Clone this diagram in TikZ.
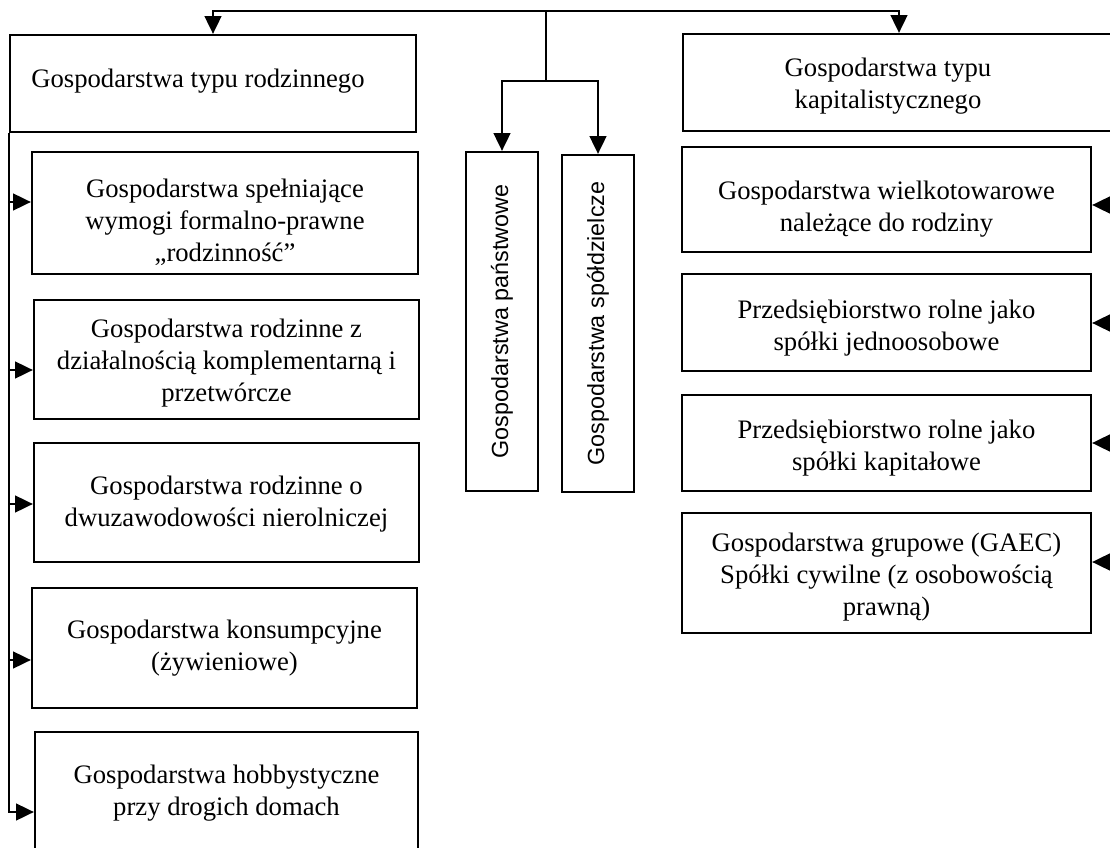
\documentclass[tikz,border=0pt]{standalone}
\usepackage{fontspec}
\setmainfont{Liberation Serif}
\setsansfont{Liberation Sans}
\usetikzlibrary{arrows.meta}
\tikzset{
  box/.style 2 args={draw, line width=1pt, minimum width=#1*0.45pt, minimum height=#2*0.45pt, inner sep=0pt, align=center},
  vbox/.style 2 args={box={#1}{#2}, rotate=90, font=\sffamily\fontsize{10.5}{12}\selectfont},
  every label/.style={align=center},
  arr/.style={line width=1pt, -{Triangle[length=8pt,width=7.5pt]}},
  link/.style={line width=1pt},
}
\begin{document}
\begin{tikzpicture}[x=0.45pt, y=-0.45pt, font=\fontsize{12}{14.4}\selectfont]
    \useasboundingbox (0,0) rectangle (1110,848);
    \clip (0,0) rectangle (1110,848);

    % Boxes
    \node[box={406}{97}, label={[xshift=-6.75pt, yshift=0.9pt]center:Gospodarstwa typu rodzinnego}] (rodz) at (213,83.5) {};
    \node[box={442}{97}, label={[xshift=-7.2pt, yshift=-1.8pt]center:Gospodarstwa typu\\kapitalistycznego}] (kap) at (904,82.5) {};

    \node[box={386}{122}, label={[yshift=-4pt]center:Gospodarstwa spełniające\\wymogi formalno-prawne\\„rodzinność”}] (fam1) at (225,213) {};
    \node[box={385}{119}, label={[yshift=-1.8pt]center:Gospodarstwa rodzinne z\\działalnością komplementarną i\\przetwórcze}] (fam2) at (226.5,359.5) {};
    \node[box={385}{119}, label={[yshift=-0.9pt]center:Gospodarstwa rodzinne o\\dwuzawodowości nierolniczej}] (fam3) at (226.5,502.5) {};
    \node[box={385}{120}, label={center:Gospodarstwa konsumpcyjne\\(żywieniowe)}] (fam4) at (224.5,648) {};
    \node[box={383}{128}, label={[yshift=1.35pt]center:Gospodarstwa hobbystyczne\\przy drogich domach}] (fam5) at (226.5,796) {};

    \node[vbox={339}{72}] (pan) at (502,321.5) {Gospodarstwa państwowe};
    \node[vbox={337}{72}] (spol) at (598,323.5) {Gospodarstwa spółdzielcze};

    \node[box={409}{105}, label={[yshift=-4.5pt]center:Gospodarstwa wielkotowarowe\\należące do rodziny}] (cap1) at (886.5,199.5) {};
    \node[box={409}{97}, label={[yshift=-2.7pt]center:Przedsiębiorstwo rolne jako\\spółki jednoosobowe}] (cap2) at (886.5,322.5) {};
    \node[box={409}{96}, label={[yshift=-2.25pt]center:Przedsiębiorstwo rolne jako\\spółki kapitałowe}] (cap3) at (886.5,443) {};
    \node[box={409}{120}, label={[yshift=-1.8pt]center:Gospodarstwa grupowe (GAEC)\\Spółki cywilne (z osobowością\\prawną)}] (cap4) at (886.5,573) {};

    % Arrows
    \coordinate (top) at (546,11);
    \coordinate (fork) at (546,81);
    \coordinate (rail) at (1120,0);
    \draw[arr] (top) -| (rodz.north);
    \draw[arr] (top) -| ([xshift=-2.25pt]kap.north);
    \draw[link] (top) -- (fork);
    \draw[arr] (fork) -| (pan.east);
    \draw[arr] (fork) -| (spol.east);

    \foreach \n/\y in {fam1/202, fam2/370, fam3/504, fam4/660, fam5/812}
        \draw[arr] (rodz.south west) |- (\n.west |- 0,\y);
    \foreach \n/\y in {cap1/205, cap2/323, cap3/443, cap4/562}
        \draw[arr] (rail |- 0,\y) -- (\n.east |- 0,\y);
\end{tikzpicture}
\end{document}
